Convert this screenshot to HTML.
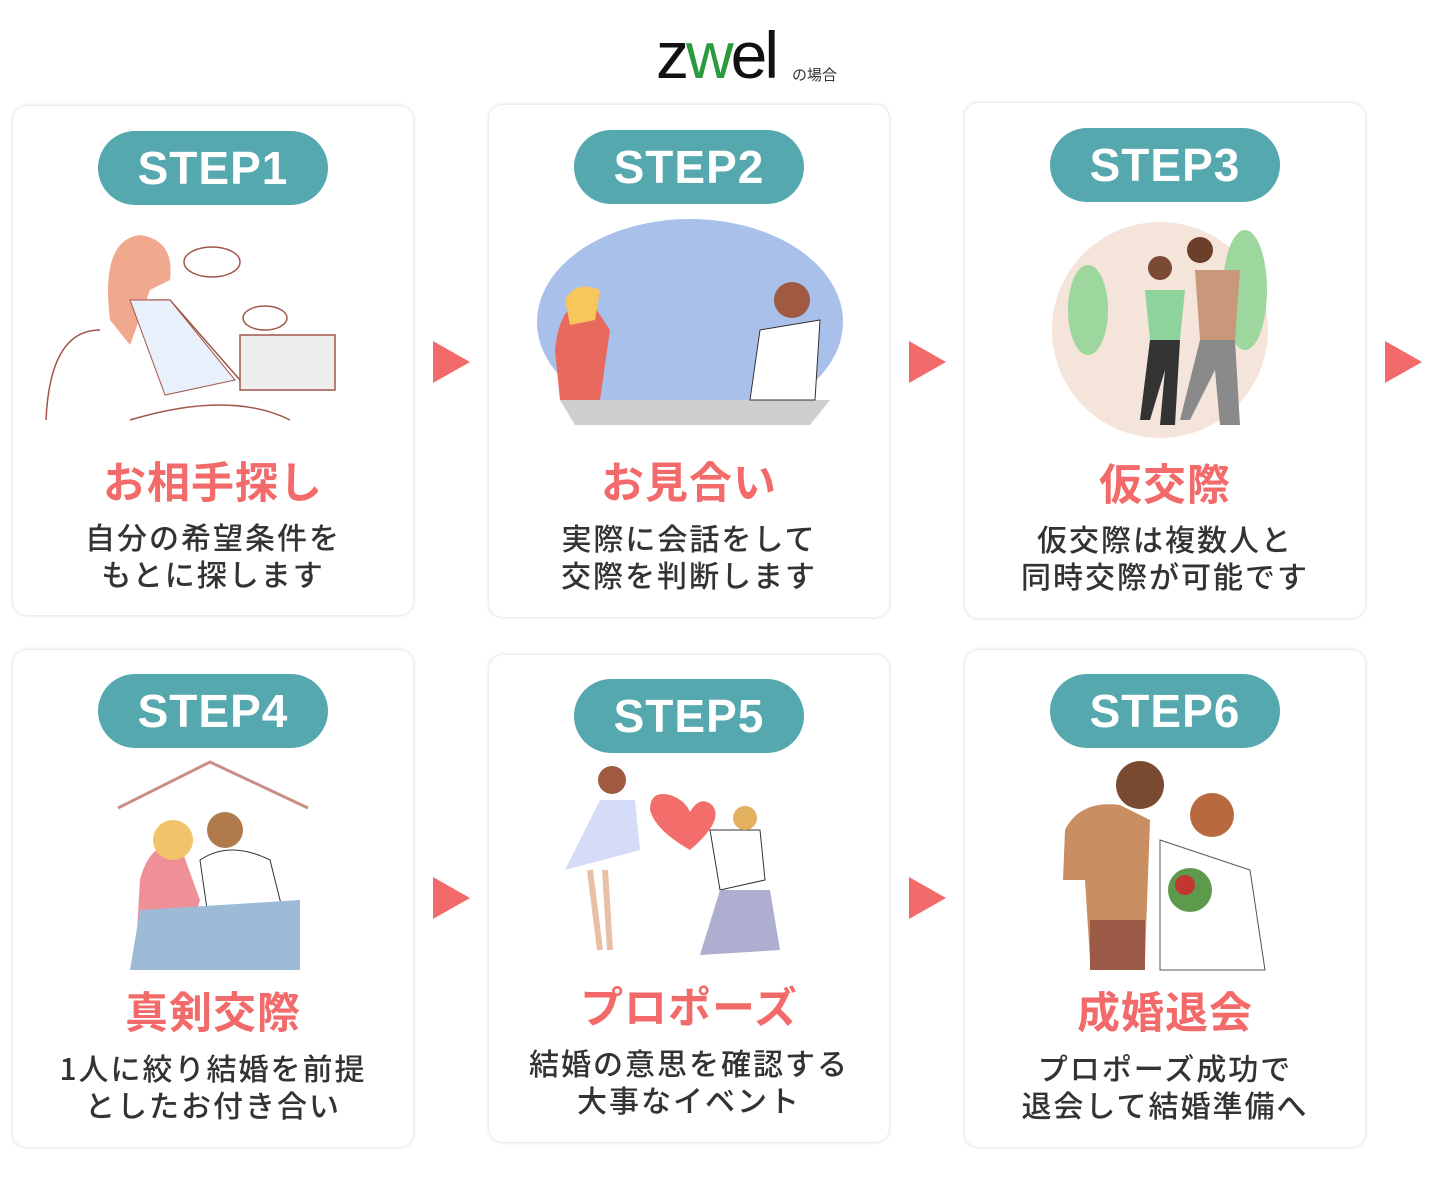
<!DOCTYPE html>
<html><head><meta charset="utf-8"><style>
body{margin:0;width:1441px;height:1191px;background:#fff;position:relative;overflow:hidden;font-family:"Liberation Sans","Noto Sans CJK JP",sans-serif}
.card{position:absolute;width:400px;background:#fff;border-radius:14px;box-shadow:0 0 4px rgba(0,0,0,.18)}
.pill{position:absolute;width:230px;height:74px;border-radius:37px;background:#55a8ae;color:#fff;font:bold 46px/74px "Liberation Sans",sans-serif;text-align:center;letter-spacing:1px}
.t{position:absolute;width:400px;text-align:center;color:#f26a6a;font:bold 43px/44px "Noto Sans CJK JP",sans-serif;letter-spacing:1px}
.d{position:absolute;width:400px;text-align:center;color:#333;font:500 30px/37px "Noto Sans CJK JP",sans-serif;letter-spacing:2px}
.ar{position:absolute;width:0;height:0;border-top:21px solid transparent;border-bottom:21px solid transparent;border-left:37px solid #f26a6a}
svg{position:absolute}
</style></head><body>
<div style="position:absolute;left:656px;top:22px;font:66px/66px 'Liberation Sans',sans-serif;color:#111;letter-spacing:-3px">z<span style="color:#2a9a3c">w</span>el</div>
<div style="position:absolute;left:792px;top:64px;font:15px 'Noto Sans CJK JP',sans-serif;color:#333">の場合</div>

<div class="card" style="left:13px;top:106px;height:509px"></div>
<div class="card" style="left:489px;top:105px;height:512px"></div>
<div class="card" style="left:965px;top:103px;height:515px"></div>
<div class="card" style="left:13px;top:650px;height:497px"></div>
<div class="card" style="left:489px;top:655px;height:487px"></div>
<div class="card" style="left:965px;top:650px;height:497px"></div>

<div class="pill" style="left:98px;top:131px">STEP1</div>
<div class="pill" style="left:574px;top:130px">STEP2</div>
<div class="pill" style="left:1050px;top:128px">STEP3</div>
<div class="pill" style="left:98px;top:674px">STEP4</div>
<div class="pill" style="left:574px;top:679px">STEP5</div>
<div class="pill" style="left:1050px;top:674px">STEP6</div>

<svg style="left:0;top:0" width="1441" height="1191">
 <g fill="none" stroke="#a0574a" stroke-width="1.5">
  <path d="M46 420 Q50 330 100 330 M130 420 Q230 390 290 420"/>
  <path d="M120 300 L170 300 L240 380 L330 390" />
  <rect x="240" y="335" width="95" height="55" fill="#eee"/>
  <ellipse cx="212" cy="262" rx="28" ry="15"/><ellipse cx="265" cy="318" rx="22" ry="12"/>
 </g>
 <path d="M110 320 Q100 240 140 235 Q175 240 170 280 L150 290 L130 345Z" fill="#f0a88e"/>
 <path d="M130 300 L170 300 L235 380 L165 395Z" fill="#e8f0fb" stroke="#a0574a"/>
 <ellipse cx="690" cy="322" rx="153" ry="103" fill="#a8c0ea"/>
 <path d="M560 400 L830 400 L810 425 L575 425Z" fill="#cfcfcf"/>
 <path d="M555 350 Q560 300 590 300 L610 330 L600 400 L560 400Z" fill="#e86a5d"/>
 <path d="M565 300 Q575 280 600 290 L595 320 L570 325Z" fill="#f7c75b"/>
 <path d="M760 330 L820 320 L815 400 L750 400Z" fill="#fff" stroke="#333"/>
 <circle cx="792" cy="300" r="18" fill="#a05a42"/>
 <circle cx="1160" cy="330" r="108" fill="#f4e4da"/>
 <ellipse cx="1088" cy="310" rx="20" ry="45" fill="#9ed79d"/><ellipse cx="1245" cy="290" rx="22" ry="60" fill="#9ed79d"/>
 <path d="M1145 290 L1185 290 L1180 340 L1150 340Z" fill="#8fd39c"/>
 <path d="M1150 340 L1180 340 L1175 425 L1160 425 L1165 370 L1150 420 L1140 420Z" fill="#333"/>
 <path d="M1195 270 L1240 270 L1235 340 L1200 340Z" fill="#c9987a"/>
 <path d="M1200 340 L1235 340 L1240 425 L1220 425 L1215 370 L1190 420 L1180 420Z" fill="#8a8a8a"/>
 <circle cx="1200" cy="250" r="13" fill="#6b3f2a"/><circle cx="1160" cy="268" r="12" fill="#7a4a32"/>
 <path d="M118 808 L210 762 L308 808" fill="none" stroke="#c98f86" stroke-width="3"/>
 <path d="M140 880 Q150 840 180 845 L200 900 L180 970 L135 965Z" fill="#ef8f97"/>
 <path d="M200 860 Q230 840 270 860 L285 920 L210 930Z" fill="#fff" stroke="#333"/>
 <path d="M140 910 L300 900 L300 970 L130 970Z" fill="#9dbbd6"/>
 <circle cx="173" cy="840" r="20" fill="#f1c46a"/><circle cx="225" cy="830" r="18" fill="#b07a4c"/>
 <path d="M650 810 Q650 790 670 795 Q685 800 690 812 Q700 795 712 805 Q725 820 690 850 Q655 830 650 810Z" fill="#f36e6a"/>
 <path d="M600 800 L635 800 L640 850 L565 870 Z" fill="#d6dcf7"/>
 <path d="M590 870 L600 950 M605 870 L610 950" stroke="#e9bfa5" stroke-width="6"/>
 <path d="M710 830 L760 830 L765 880 L720 890Z" fill="#fff" stroke="#333"/>
 <path d="M720 890 L770 890 L780 950 L700 955 Z" fill="#aeaed0"/>
 <circle cx="612" cy="780" r="14" fill="#a05a42"/><circle cx="745" cy="818" r="12" fill="#e2b05f"/>
 <path d="M1065 830 Q1080 800 1120 805 L1150 820 L1145 960 L1090 960 L1085 880 L1063 880Z" fill="#c98f62"/>
 <rect x="1090" y="920" width="55" height="50" fill="#9b5a45"/>
 <path d="M1160 840 L1250 870 L1265 970 L1160 970 Z" fill="#fff" stroke="#555"/>
 <circle cx="1140" cy="785" r="24" fill="#7a4a30"/><circle cx="1212" cy="815" r="22" fill="#b76a3f"/>
 <circle cx="1190" cy="890" r="22" fill="#5e9a4c"/><circle cx="1185" cy="885" r="10" fill="#c2372f"/>
</svg>

<div class="t" style="left:13px;top:458px">お相手探し</div>
<div class="t" style="left:489px;top:458px">お見合い</div>
<div class="t" style="left:965px;top:460px">仮交際</div>
<div class="t" style="left:13px;top:988px">真剣交際</div>
<div class="t" style="left:489px;top:983px">プロポーズ</div>
<div class="t" style="left:965px;top:988px">成婚退会</div>

<div class="d" style="left:13px;top:518px">自分の希望条件を<br>もとに探します</div>
<div class="d" style="left:489px;top:519px">実際に会話をして<br>交際を判断します</div>
<div class="d" style="left:965px;top:520px">仮交際は複数人と<br>同時交際が可能です</div>
<div class="d" style="left:13px;top:1049px">1人に絞り結婚を前提<br>としたお付き合い</div>
<div class="d" style="left:489px;top:1044px">結婚の意思を確認する<br>大事なイベント</div>
<div class="d" style="left:965px;top:1049px">プロポーズ成功で<br>退会して結婚準備へ</div>

<div class="ar" style="left:433px;top:341px"></div>
<div class="ar" style="left:909px;top:341px"></div>
<div class="ar" style="left:1385px;top:341px"></div>
<div class="ar" style="left:433px;top:877px"></div>
<div class="ar" style="left:909px;top:877px"></div>
</body></html>
